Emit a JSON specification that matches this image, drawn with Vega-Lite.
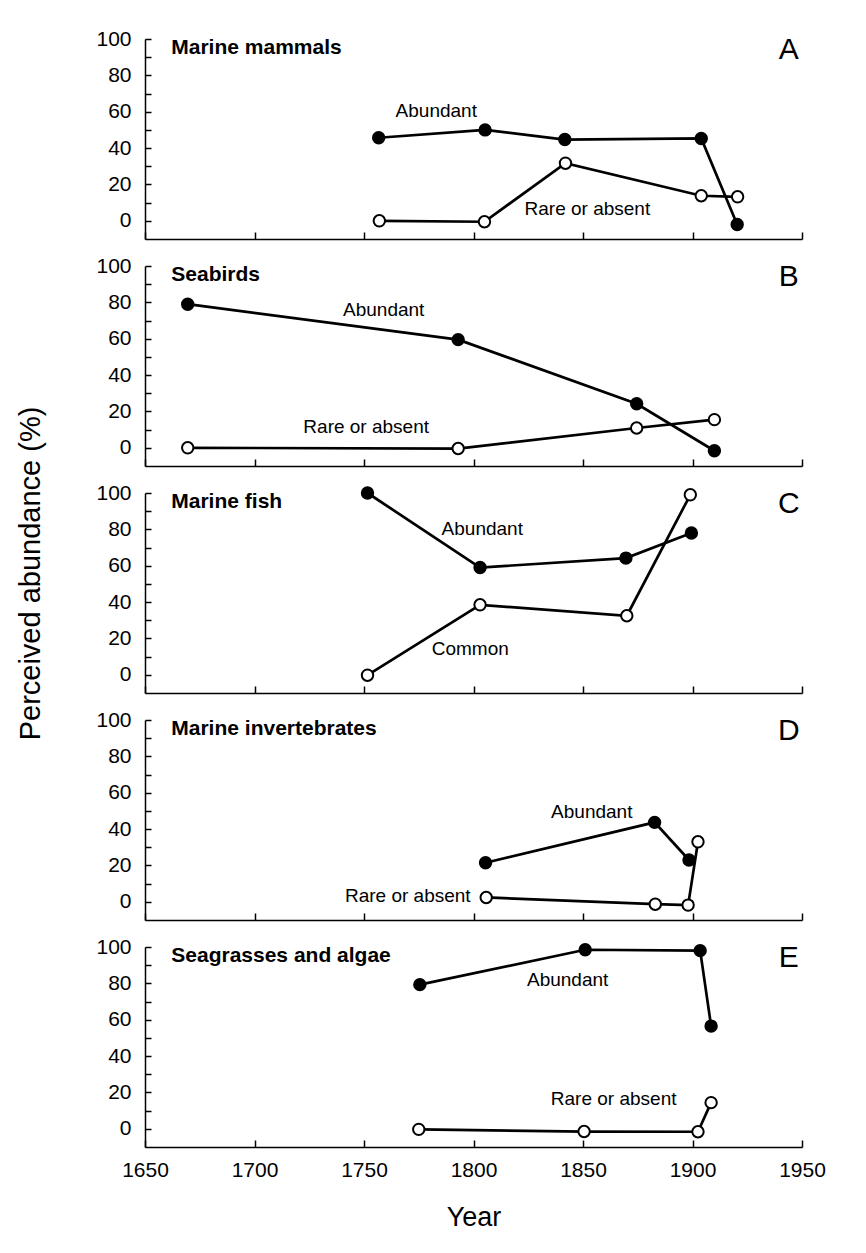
{
  "$schema": "https://vega.github.io/schema/vega-lite/v6.json",
  "background": "white",
  "padding": {"left": 16, "top": 28, "right": 50, "bottom": 20},
  "bounds": "flush",
  "spacing": 27,
  "datasets": {
    "pts": [
      {"panel": "A", "series": "Abundant", "year": 1756.7, "value": 45.7},
      {"panel": "A", "series": "Abundant", "year": 1805.3, "value": 50},
      {"panel": "A", "series": "Abundant", "year": 1841.7, "value": 44.7},
      {"panel": "A", "series": "Abundant", "year": 1904, "value": 45.3},
      {"panel": "A", "series": "Abundant", "year": 1920.4, "value": -2},
      {"panel": "A", "series": "Rare or absent", "year": 1757, "value": 0},
      {"panel": "A", "series": "Rare or absent", "year": 1805, "value": -0.5},
      {"panel": "A", "series": "Rare or absent", "year": 1842, "value": 31.7},
      {"panel": "A", "series": "Rare or absent", "year": 1904, "value": 13.8},
      {"panel": "A", "series": "Rare or absent", "year": 1920.6, "value": 13.2},
      {"panel": "B", "series": "Abundant", "year": 1669.5, "value": 79},
      {"panel": "B", "series": "Abundant", "year": 1793, "value": 59.5},
      {"panel": "B", "series": "Abundant", "year": 1874.5, "value": 24.2},
      {"panel": "B", "series": "Abundant", "year": 1910, "value": -1.6},
      {"panel": "B", "series": "Rare or absent", "year": 1669.5, "value": 0},
      {"panel": "B", "series": "Rare or absent", "year": 1793, "value": -0.4},
      {"panel": "B", "series": "Rare or absent", "year": 1874.5, "value": 10.9},
      {"panel": "B", "series": "Rare or absent", "year": 1910, "value": 15.5},
      {"panel": "C", "series": "Abundant", "year": 1751.6, "value": 100},
      {"panel": "C", "series": "Abundant", "year": 1803, "value": 59},
      {"panel": "C", "series": "Abundant", "year": 1869.6, "value": 64.2},
      {"panel": "C", "series": "Abundant", "year": 1899.5, "value": 78},
      {"panel": "C", "series": "Common", "year": 1751.6, "value": -0.2},
      {"panel": "C", "series": "Common", "year": 1803, "value": 38.5},
      {"panel": "C", "series": "Common", "year": 1870, "value": 32.5},
      {"panel": "C", "series": "Common", "year": 1899, "value": 99},
      {"panel": "D", "series": "Abundant", "year": 1805.5, "value": 21.5},
      {"panel": "D", "series": "Abundant", "year": 1882.7, "value": 43.7},
      {"panel": "D", "series": "Abundant", "year": 1898.4, "value": 23},
      {"panel": "D", "series": "Rare or absent", "year": 1805.8, "value": 2.4},
      {"panel": "D", "series": "Rare or absent", "year": 1883, "value": -1.3},
      {"panel": "D", "series": "Rare or absent", "year": 1898, "value": -1.8},
      {"panel": "D", "series": "Rare or absent", "year": 1902.5, "value": 33},
      {"panel": "E", "series": "Abundant", "year": 1775.5, "value": 79.3},
      {"panel": "E", "series": "Abundant", "year": 1851, "value": 98.5},
      {"panel": "E", "series": "Abundant", "year": 1903.5, "value": 98},
      {"panel": "E", "series": "Abundant", "year": 1908.5, "value": 56.5},
      {"panel": "E", "series": "Rare or absent", "year": 1775, "value": -0.3},
      {"panel": "E", "series": "Rare or absent", "year": 1850.5, "value": -1.5},
      {"panel": "E", "series": "Rare or absent", "year": 1902.5, "value": -1.6},
      {"panel": "E", "series": "Rare or absent", "year": 1908.5, "value": 14.4}
    ],
    "txt": [
      {"panel": "A", "kind": "label", "text": "Abundant", "year": 1783, "value": 60.5},
      {"panel": "A", "kind": "label", "text": "Rare or absent", "year": 1852, "value": 6.6},
      {"panel": "A", "kind": "title", "text": "Marine mammals", "year": 1662, "value": 95},
      {"panel": "A", "kind": "letter", "text": "A", "year": 1944, "value": 94},
      {"panel": "B", "kind": "label", "text": "Abundant", "year": 1759, "value": 75.7},
      {"panel": "B", "kind": "label", "text": "Rare or absent", "year": 1751, "value": 11.4},
      {"panel": "B", "kind": "title", "text": "Seabirds", "year": 1662, "value": 95},
      {"panel": "B", "kind": "letter", "text": "B", "year": 1944, "value": 94},
      {"panel": "C", "kind": "label", "text": "Abundant", "year": 1804, "value": 80},
      {"panel": "C", "kind": "label", "text": "Common", "year": 1798.5, "value": 14},
      {"panel": "C", "kind": "title", "text": "Marine fish", "year": 1662, "value": 95},
      {"panel": "C", "kind": "letter", "text": "C", "year": 1944, "value": 94},
      {"panel": "D", "kind": "label", "text": "Abundant", "year": 1854, "value": 49.5},
      {"panel": "D", "kind": "label", "text": "Rare or absent", "year": 1770, "value": 3},
      {"panel": "D", "kind": "title", "text": "Marine invertebrates", "year": 1662, "value": 95},
      {"panel": "D", "kind": "letter", "text": "D", "year": 1944, "value": 94},
      {"panel": "E", "kind": "label", "text": "Abundant", "year": 1843, "value": 81.7},
      {"panel": "E", "kind": "label", "text": "Rare or absent", "year": 1864, "value": 16.3},
      {"panel": "E", "kind": "title", "text": "Seagrasses and algae", "year": 1662, "value": 95},
      {"panel": "E", "kind": "letter", "text": "E", "year": 1944, "value": 94}
    ]
  },
  "config": {
    "font": "Liberation Sans",
    "view": {"stroke": null},
    "axis": {
      "grid": false,
      "labelFlush": false,
      "domainColor": "black",
      "domainWidth": 1.5,
      "tickColor": "black",
      "tickWidth": 1.5,
      "labelColor": "black",
      "labelFont": "Liberation Sans",
      "labelFontSize": 21,
      "titleColor": "black",
      "titleFont": "Liberation Sans",
      "titleFontWeight": "normal"
    },
    "line": {"color": "black", "strokeWidth": 2.7},
    "point": {"shape": "circle", "filled": true, "stroke": "black", "strokeWidth": 2, "opacity": 1, "size": 130},
    "text": {"color": "black", "baseline": "middle"}
  },
  "vconcat": [
    {
      "width": 657, "height": 200,
      "encoding": {
        "x": {"field": "year", "type": "quantitative", "scale": {"domain": [1650, 1950], "nice": false, "zero": false}, "axis": {"values": [1650, 1700, 1750, 1800, 1850, 1900, 1950], "labels": false, "title": null, "tickSize": -7}},
        "y": {"field": "value", "type": "quantitative", "scale": {"domain": [-10, 100], "nice": false, "zero": false}, "axis": {"values": [0, 10, 20, 30, 40, 50, 60, 70, 80, 90, 100], "labelExpr": "datum.value % 20 === 0 ? datum.label : ''", "tickSize": -6, "labelPadding": 20, "title": null}}
      },
      "layer": [
        {"data": {"name": "pts"}, "transform": [{"filter": "datum.panel === 'A'"}], "mark": {"type": "line"}, "encoding": {"detail": {"field": "series"}}},
        {"data": {"name": "pts"}, "transform": [{"filter": "datum.panel === 'A'"}], "mark": {"type": "point"}, "encoding": {"fill": {"field": "series", "scale": {"domain": ["Abundant", "Rare or absent", "Common"], "range": ["black", "white", "white"]}, "legend": null}}},
        {"data": {"name": "txt"}, "transform": [{"filter": "datum.panel === 'A' && datum.kind === 'label'"}], "mark": {"type": "text", "fontSize": 19, "align": "center"}, "encoding": {"text": {"field": "text"}}},
        {"data": {"name": "txt"}, "transform": [{"filter": "datum.panel === 'A' && datum.kind === 'title'"}], "mark": {"type": "text", "fontSize": 21, "fontWeight": "bold", "align": "left"}, "encoding": {"text": {"field": "text"}}},
        {"data": {"name": "txt"}, "transform": [{"filter": "datum.panel === 'A' && datum.kind === 'letter'"}], "mark": {"type": "text", "fontSize": 30, "align": "center"}, "encoding": {"text": {"field": "text"}}}
      ]
    },
    {
      "width": 657, "height": 200,
      "encoding": {
        "x": {"field": "year", "type": "quantitative", "scale": {"domain": [1650, 1950], "nice": false, "zero": false}, "axis": {"values": [1650, 1700, 1750, 1800, 1850, 1900, 1950], "labels": false, "title": null, "tickSize": -7}},
        "y": {"field": "value", "type": "quantitative", "scale": {"domain": [-10, 100], "nice": false, "zero": false}, "axis": {"values": [0, 10, 20, 30, 40, 50, 60, 70, 80, 90, 100], "labelExpr": "datum.value % 20 === 0 ? datum.label : ''", "tickSize": -6, "labelPadding": 20, "title": null}}
      },
      "layer": [
        {"data": {"name": "pts"}, "transform": [{"filter": "datum.panel === 'B'"}], "mark": {"type": "line"}, "encoding": {"detail": {"field": "series"}}},
        {"data": {"name": "pts"}, "transform": [{"filter": "datum.panel === 'B'"}], "mark": {"type": "point"}, "encoding": {"fill": {"field": "series", "scale": {"domain": ["Abundant", "Rare or absent", "Common"], "range": ["black", "white", "white"]}, "legend": null}}},
        {"data": {"name": "txt"}, "transform": [{"filter": "datum.panel === 'B' && datum.kind === 'label'"}], "mark": {"type": "text", "fontSize": 19, "align": "center"}, "encoding": {"text": {"field": "text"}}},
        {"data": {"name": "txt"}, "transform": [{"filter": "datum.panel === 'B' && datum.kind === 'title'"}], "mark": {"type": "text", "fontSize": 21, "fontWeight": "bold", "align": "left"}, "encoding": {"text": {"field": "text"}}},
        {"data": {"name": "txt"}, "transform": [{"filter": "datum.panel === 'B' && datum.kind === 'letter'"}], "mark": {"type": "text", "fontSize": 30, "align": "center"}, "encoding": {"text": {"field": "text"}}}
      ]
    },
    {
      "width": 657, "height": 200,
      "encoding": {
        "x": {"field": "year", "type": "quantitative", "scale": {"domain": [1650, 1950], "nice": false, "zero": false}, "axis": {"values": [1650, 1700, 1750, 1800, 1850, 1900, 1950], "labels": false, "title": null, "tickSize": -7}},
        "y": {"field": "value", "type": "quantitative", "scale": {"domain": [-10, 100], "nice": false, "zero": false}, "axis": {"values": [0, 10, 20, 30, 40, 50, 60, 70, 80, 90, 100], "labelExpr": "datum.value % 20 === 0 ? datum.label : ''", "tickSize": -6, "labelPadding": 20, "title": "Perceived abundance (%)", "titleFontSize": 29, "titlePadding": 50, "titleY": 80}}
      },
      "layer": [
        {"data": {"name": "pts"}, "transform": [{"filter": "datum.panel === 'C'"}], "mark": {"type": "line"}, "encoding": {"detail": {"field": "series"}}},
        {"data": {"name": "pts"}, "transform": [{"filter": "datum.panel === 'C'"}], "mark": {"type": "point"}, "encoding": {"fill": {"field": "series", "scale": {"domain": ["Abundant", "Rare or absent", "Common"], "range": ["black", "white", "white"]}, "legend": null}}},
        {"data": {"name": "txt"}, "transform": [{"filter": "datum.panel === 'C' && datum.kind === 'label'"}], "mark": {"type": "text", "fontSize": 19, "align": "center"}, "encoding": {"text": {"field": "text"}}},
        {"data": {"name": "txt"}, "transform": [{"filter": "datum.panel === 'C' && datum.kind === 'title'"}], "mark": {"type": "text", "fontSize": 21, "fontWeight": "bold", "align": "left"}, "encoding": {"text": {"field": "text"}}},
        {"data": {"name": "txt"}, "transform": [{"filter": "datum.panel === 'C' && datum.kind === 'letter'"}], "mark": {"type": "text", "fontSize": 30, "align": "center"}, "encoding": {"text": {"field": "text"}}}
      ]
    },
    {
      "width": 657, "height": 200,
      "encoding": {
        "x": {"field": "year", "type": "quantitative", "scale": {"domain": [1650, 1950], "nice": false, "zero": false}, "axis": {"values": [1650, 1700, 1750, 1800, 1850, 1900, 1950], "labels": false, "title": null, "tickSize": -7}},
        "y": {"field": "value", "type": "quantitative", "scale": {"domain": [-10, 100], "nice": false, "zero": false}, "axis": {"values": [0, 10, 20, 30, 40, 50, 60, 70, 80, 90, 100], "labelExpr": "datum.value % 20 === 0 ? datum.label : ''", "tickSize": -6, "labelPadding": 20, "title": null}}
      },
      "layer": [
        {"data": {"name": "pts"}, "transform": [{"filter": "datum.panel === 'D'"}], "mark": {"type": "line"}, "encoding": {"detail": {"field": "series"}}},
        {"data": {"name": "pts"}, "transform": [{"filter": "datum.panel === 'D'"}], "mark": {"type": "point"}, "encoding": {"fill": {"field": "series", "scale": {"domain": ["Abundant", "Rare or absent", "Common"], "range": ["black", "white", "white"]}, "legend": null}}},
        {"data": {"name": "txt"}, "transform": [{"filter": "datum.panel === 'D' && datum.kind === 'label'"}], "mark": {"type": "text", "fontSize": 19, "align": "center"}, "encoding": {"text": {"field": "text"}}},
        {"data": {"name": "txt"}, "transform": [{"filter": "datum.panel === 'D' && datum.kind === 'title'"}], "mark": {"type": "text", "fontSize": 21, "fontWeight": "bold", "align": "left"}, "encoding": {"text": {"field": "text"}}},
        {"data": {"name": "txt"}, "transform": [{"filter": "datum.panel === 'D' && datum.kind === 'letter'"}], "mark": {"type": "text", "fontSize": 30, "align": "center"}, "encoding": {"text": {"field": "text"}}}
      ]
    },
    {
      "width": 657, "height": 200,
      "encoding": {
        "x": {"field": "year", "type": "quantitative", "scale": {"domain": [1650, 1950], "nice": false, "zero": false}, "axis": {"values": [1650, 1700, 1750, 1800, 1850, 1900, 1950], "format": "d", "labelPadding": 19, "title": "Year", "titleFontSize": 27, "titlePadding": 24, "tickSize": -7}},
        "y": {"field": "value", "type": "quantitative", "scale": {"domain": [-10, 100], "nice": false, "zero": false}, "axis": {"values": [0, 10, 20, 30, 40, 50, 60, 70, 80, 90, 100], "labelExpr": "datum.value % 20 === 0 ? datum.label : ''", "tickSize": -6, "labelPadding": 20, "title": null}}
      },
      "layer": [
        {"data": {"name": "pts"}, "transform": [{"filter": "datum.panel === 'E'"}], "mark": {"type": "line"}, "encoding": {"detail": {"field": "series"}}},
        {"data": {"name": "pts"}, "transform": [{"filter": "datum.panel === 'E'"}], "mark": {"type": "point"}, "encoding": {"fill": {"field": "series", "scale": {"domain": ["Abundant", "Rare or absent", "Common"], "range": ["black", "white", "white"]}, "legend": null}}},
        {"data": {"name": "txt"}, "transform": [{"filter": "datum.panel === 'E' && datum.kind === 'label'"}], "mark": {"type": "text", "fontSize": 19, "align": "center"}, "encoding": {"text": {"field": "text"}}},
        {"data": {"name": "txt"}, "transform": [{"filter": "datum.panel === 'E' && datum.kind === 'title'"}], "mark": {"type": "text", "fontSize": 21, "fontWeight": "bold", "align": "left"}, "encoding": {"text": {"field": "text"}}},
        {"data": {"name": "txt"}, "transform": [{"filter": "datum.panel === 'E' && datum.kind === 'letter'"}], "mark": {"type": "text", "fontSize": 30, "align": "center"}, "encoding": {"text": {"field": "text"}}}
      ]
    }
  ]
}
